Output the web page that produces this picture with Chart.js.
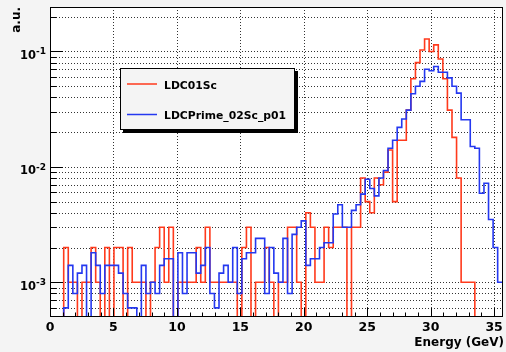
<!DOCTYPE html>
<html><head><meta charset="utf-8">
<script src="https://cdn.jsdelivr.net/npm/chart.js@4.4.1/dist/chart.umd.min.js"></script>
<style>html,body{margin:0;padding:0;background:#f4f4f4;}</style>
</head><body>
<canvas id="c" width="506" height="352"></canvas>
<script>
// ---- data ----
const binWidth = 0.36;            // GeV per bin, 100 bins from 0
const seriesNames = ['LDC01Sc', 'LDCPrime_02Sc_p01'];
const ldc01Sc = [
 0,0,0,0.002,0.001,0.001,0,0.001,0.001,0.002,
 0.001,0,0.002,0,0.002,0.002,0,0.002,0.001,0.001,
 0.001,0,0.001,0.002,0.003,0.001,0.003,0,0.001,0.001,
 0.001,0.001,0.002,0.001,0.003,0.001,0.001,0.001,0.001,0.001,
 0.001,0,0.002,0.003,0,0.001,0.001,0.002,0.001,0,
 0.001,0.001,0.003,0.003,0.001,0,0.004,0.003,0.001,0.001,
 0.003,0.002,0.003,0.003,0.003,0,0.003,0.003,0.008,0.005,
 0.004,0.008,0.007,0.009,0.014,0.005,0.017,0.017,0.031,0.058,
 0.080,0.103,0.128,0.100,0.114,0.086,0.058,0.031,0.018,0.008,
 0.001,0.001,0.001,0,0,0,0,0,0,0
];
const ldcPrime02ScP01 = [
 0,0,0,0.0006,0.0014,0.0008,0.0012,0.0014,0,0.0018,
 0.0014,0.0008,0.0014,0.0014,0.0014,0.0012,0.0008,0.0006,0.0006,0,
 0.0014,0.0008,0.001,0.0008,0.0014,0.0016,0.0016,0,0.0018,0.0008,
 0.0018,0.0018,0.0012,0.0014,0.002,0.0008,0.0006,0.0012,0.0014,0.001,
 0.002,0.0008,0.0016,0.0018,0.0018,0.0024,0.0024,0.0008,0.002,0.0012,
 0.001,0.0024,0.0008,0.0026,0.003,0.0034,0.0014,0.0016,0.0016,0.002,
 0.0022,0.0022,0.0039,0.0047,0.003,0.003,0.0042,0.0047,0.0058,0.0078,
 0.0065,0.0056,0.008,0.0093,0.0145,0.017,0.022,0.026,0.031,0.043,
 0.050,0.055,0.070,0.068,0.074,0.066,0.066,0.059,0.050,0.0435,
 0.0256,0.0256,0.015,0.0145,0.0059,0.0072,0.0035,0.002,0.001,0.001
];
const xTicks = [0,5,10,15,20,25,30,35];
const yDecades = [1e-3, 1e-2, 1e-1];
const yExponents = ['-3','-2','-1'];
const X_MIN = 0, X_MAX = 35.7, Y_MIN = 5e-4, Y_MAX = 0.2427;
const RED = '#ff3a1c', BLUE = '#2438f0';

function toSteps(vals){
  const pts = vals.map((v,i)=>({x: i*binWidth, y: v>0 ? v : Y_MIN}));
  const last = vals[vals.length-1];
  pts.push({x: vals.length*binWidth, y: last>0 ? last : Y_MIN});
  return pts;
}

const FONT = '"DejaVu Sans", "Liberation Sans", sans-serif';

const rootStyle = {
  id: 'rootStyle',
  beforeDraw(chart){
    const {ctx, chartArea:a, scales:{x, y}} = chart;
    ctx.save();
    ctx.fillStyle = '#f4f4f4';
    ctx.fillRect(0,0,chart.width,chart.height);
    ctx.fillStyle = '#ffffff';
    ctx.fillRect(a.left, a.top, a.right-a.left, a.bottom-a.top);
    // dotted grid
    ctx.strokeStyle = 'rgba(0,0,0,0.8)';
    ctx.lineWidth = 1;
    ctx.setLineDash([1,2]);
    for (let e=-4; e<=0; e++){
      for (let m=1; m<=9; m++){
        const v = m*Math.pow(10,e);
        if (v <= Y_MIN*1.001 || v >= Y_MAX) continue;
        const py = Math.round(y.getPixelForValue(v)) + 0.5;
        ctx.beginPath(); ctx.moveTo(a.left, py); ctx.lineTo(a.right, py); ctx.stroke();
      }
    }
    xTicks.forEach(t=>{
      if (t <= X_MIN) return;
      const px = Math.round(x.getPixelForValue(t)) + 0.5;
      ctx.beginPath(); ctx.moveTo(px, a.top); ctx.lineTo(px, a.bottom); ctx.stroke();
    });
    ctx.restore();
  },
  afterDatasetsDraw(chart){
    const {ctx, chartArea:a, scales:{x, y}} = chart;
    ctx.save();
    ctx.setLineDash([]);
    ctx.strokeStyle = '#000';
    ctx.lineWidth = 1;
    // frame
    ctx.strokeRect(a.left+0.5, a.top+0.5, a.right-a.left-1, a.bottom-a.top-1);
    // y ticks
    ctx.beginPath();
    for (let e=-4; e<=0; e++){
      for (let m=1; m<=9; m++){
        const v = m*Math.pow(10,e);
        if (v <= Y_MIN*1.001 || v >= Y_MAX) continue;
        const py = Math.round(y.getPixelForValue(v)) + 0.5;
        const len = m===1 ? 13 : 6.5;
        ctx.moveTo(a.left, py); ctx.lineTo(a.left+len, py);
      }
    }
    // x ticks
    for (let t=1; t<X_MAX; t++){
      const px = Math.round(x.getPixelForValue(t)) + 0.5;
      const len = t%5===0 ? 9 : 4.5;
      ctx.moveTo(px, a.bottom); ctx.lineTo(px, a.bottom-len);
    }
    ctx.stroke();
    // x labels
    ctx.fillStyle = '#000';
    ctx.font = 'bold 12.5px ' + FONT;
    ctx.textAlign = 'center';
    ctx.textBaseline = 'alphabetic';
    xTicks.forEach(t=>{
      ctx.fillText(String(t), x.getPixelForValue(t), 331);
    });
    // y labels with superscript exponent
    yDecades.forEach((v,i)=>{
      const py = y.getPixelForValue(v);
      ctx.textAlign = 'right';
      ctx.font = 'bold 11.5px ' + FONT;
      ctx.fillText('10', 36, py + 7.5);
      ctx.textAlign = 'left';
      ctx.font = 'bold 9px ' + FONT;
      ctx.fillText(yExponents[i], 36, py + 2.8);
    });
    // axis titles
    ctx.font = 'bold 12px ' + FONT;
    ctx.textAlign = 'right';
    ctx.fillText('Energy (GeV)', 504, 346);
    ctx.save();
    ctx.translate(19.5, a.top);
    ctx.rotate(-Math.PI/2);
    ctx.textAlign = 'right';
    ctx.fillText('a.u.', 0, 0);
    ctx.restore();
    // legend
    const L = {x:120, y:68, w:175, h:62};
    ctx.fillStyle = '#000';
    ctx.fillRect(L.x+3, L.y+3, L.w, L.h);
    ctx.fillStyle = '#f4f4f4';
    ctx.fillRect(L.x, L.y, L.w, L.h);
    ctx.strokeStyle = '#000';
    ctx.strokeRect(L.x+0.5, L.y+0.5, L.w-1, L.h-1);
    const rows = [{c:RED, y:84}, {c:BLUE, y:114.5}];
    rows.forEach((r,i)=>{
      ctx.strokeStyle = r.c; ctx.lineWidth = 1.5;
      ctx.beginPath(); ctx.moveTo(127, r.y); ctx.lineTo(157, r.y); ctx.stroke();
      ctx.fillStyle = '#000';
      ctx.font = 'bold 10.8px ' + FONT;
      ctx.textAlign = 'left';
      ctx.fillText(seriesNames[i], 164, r.y + 4.6);
    });
    ctx.restore();
  }
};

new Chart(document.getElementById('c'), {
  type: 'line',
  data: {
    datasets: [
      {label: seriesNames[0], data: toSteps(ldc01Sc), borderColor: RED, borderWidth: 1.6,
       stepped: 'before', pointRadius: 0, fill: false, order: 2},
      {label: seriesNames[1], data: toSteps(ldcPrime02ScP01), borderColor: BLUE, borderWidth: 1.6,
       stepped: 'before', pointRadius: 0, fill: false, order: 1}
    ]
  },
  options: {
    responsive: false,
    devicePixelRatio: 1,
    animation: false,
    events: [],
    layout: {padding: {left: 50, top: 7, right: 3, bottom: 35}},
    plugins: {legend: {display: false}, tooltip: {enabled: false}, title: {display: false}},
    scales: {
      x: {type: 'linear', min: X_MIN, max: X_MAX, bounds: 'data', display: false},
      y: {type: 'logarithmic', min: Y_MIN, max: Y_MAX, display: false}
    }
  },
  plugins: [rootStyle]
});
</script>
</body></html>
